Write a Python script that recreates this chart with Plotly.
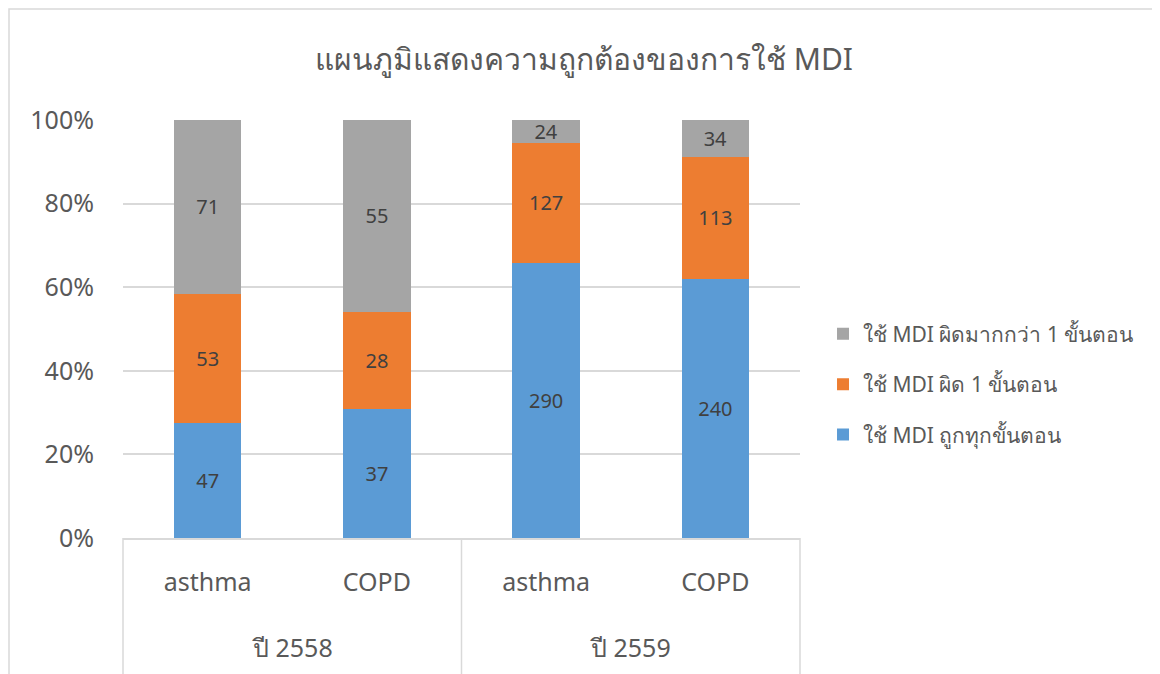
import plotly.graph_objects as go

years = ["ปี 2558", "ปี 2558", "ปี 2559", "ปี 2559"]
groups = ["asthma", "COPD", "asthma", "COPD"]

series_names = [
    "ใช้ MDI ถูกทุกขั้นตอน",
    "ใช้ MDI ผิด 1 ขั้นตอน",
    "ใช้ MDI ผิดมากกว่า 1 ขั้นตอน",
]
correct_all = [47, 37, 290, 240]
wrong_one = [53, 28, 127, 113]
wrong_many = [71, 55, 24, 34]

colors = ["#5B9BD5", "#ED7D31", "#A5A5A5"]
FONT = "Noto Sans, Tahoma, sans-serif"
GRID = "#D9D9D9"
TXT = "#595959"

xpos = list(range(len(groups)))

fig = go.Figure()
for i, (name, vals, col) in enumerate(zip(series_names, [correct_all, wrong_one, wrong_many], colors)):
    fig.add_trace(go.Bar(
        x=xpos, y=vals, name=name, legendgroup=f"g{i}", legendrank=len(series_names) - i,
        marker=dict(color=col, line=dict(width=0)),
        text=vals, textposition="inside", insidetextanchor="middle",
        textangle=0, constraintext="none",
        textfont=dict(size=20, color="#404040", family=FONT),
    ))

# page body has an 8px margin, so the figure is a bit smaller than the window
fig.update_layout(
    width=1152, height=666,
    barmode="stack", barnorm="percent", bargap=0.6,
    plot_bgcolor="white", paper_bgcolor="white",
    margin=dict(l=115, r=360, t=112, b=136),
    title=dict(text="แผนภูมิแสดงความถูกต้องของการใช้ MDI", x=0.5, xanchor="center",
               y=0.922, yanchor="middle",
               font=dict(size=30, color=TXT, family=FONT)),
    legend=dict(traceorder="grouped", x=1.034, y=0.368, yanchor="middle",
                font=dict(size=21, color=TXT, family=FONT),
                tracegroupgap=20, itemwidth=30),
    uniformtext=dict(mode="show", minsize=10),
    font=dict(family=FONT, color=TXT),
)
fig.update_yaxes(range=[0, 100], dtick=20, ticksuffix="%", showgrid=True,
                 gridcolor=GRID, gridwidth=1.5, zeroline=False,
                 tickfont=dict(size=25, color=TXT),
                 ticks="", showline=False, ticklabelstandoff=28)
fig.update_xaxes(range=[-0.5, len(groups) - 0.5], tickvals=xpos, ticktext=groups,
                 tickfont=dict(size=25, color=TXT), showgrid=False, zeroline=False,
                 showline=True, linecolor=GRID, linewidth=1.5,
                 ticks="", ticklabelstandoff=21)

# outer level of the category axis: year under each pair of bars
for yr in dict.fromkeys(years):
    idx = [i for i, y in enumerate(years) if y == yr]
    fig.add_annotation(x=sum(idx) / len(idx), y=-0.2608, xref="x", yref="paper",
                       text=yr, showarrow=False, yanchor="middle",
                       font=dict(size=25, color=TXT, family=FONT))

# group dividers running down through the category labels
for xd in [0, 0.5, 1]:
    fig.add_shape(type="line", xref="paper", yref="paper",
                  x0=xd, x1=xd, y0=0, y1=-0.35,
                  line=dict(color=GRID, width=1.5))

# chart border
fig.add_shape(type="rect", xref="paper", yref="paper",
              x0=-0.1684, x1=1.5244, y0=-0.4, y1=1.2656,
              line=dict(color=GRID, width=1.5), layer="below")

fig.write_html("out.html")
